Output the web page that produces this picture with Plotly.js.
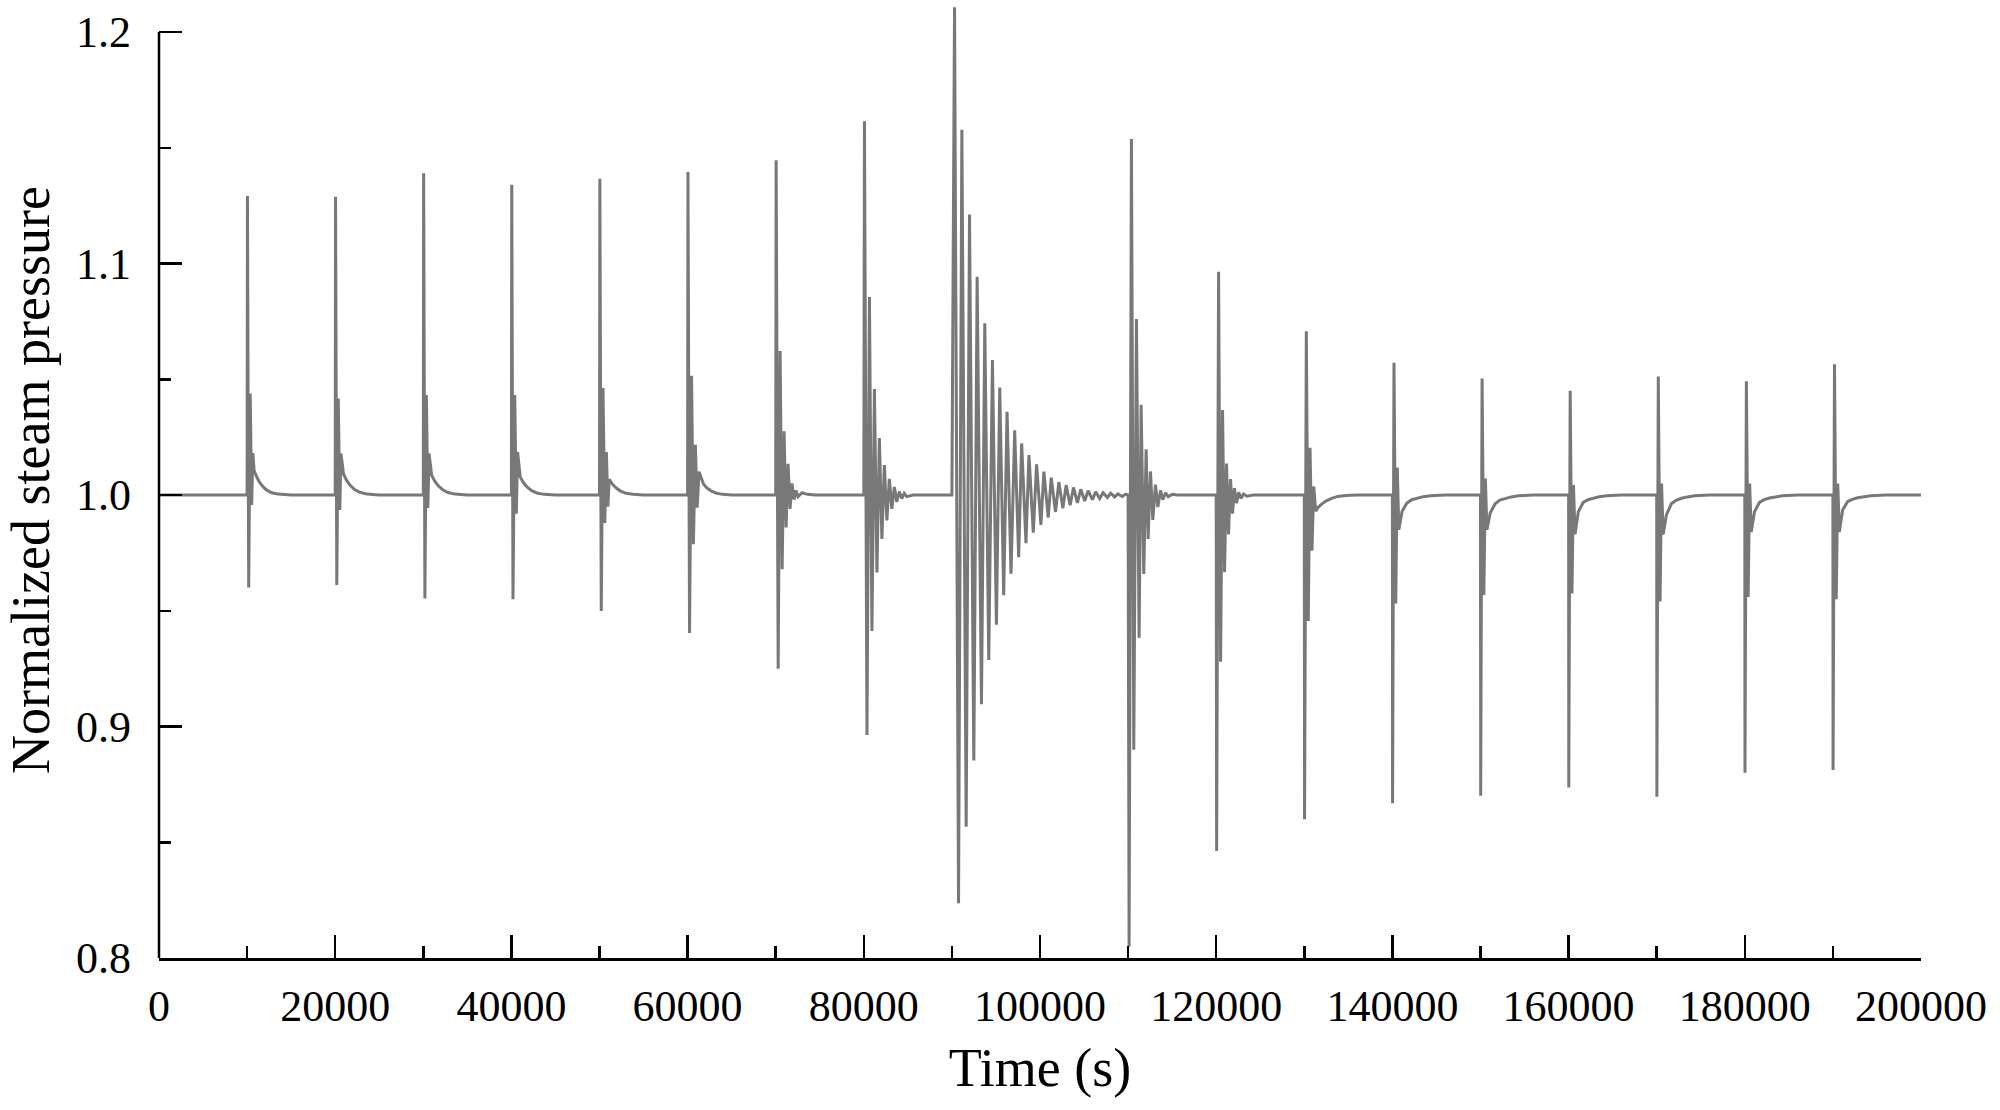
<!DOCTYPE html>
<html>
<head>
<meta charset="utf-8">
<script src="https://cdn.plot.ly/plotly-3.0.1.min.js"></script>
<style>
  html, body { margin: 0; padding: 0; background: #ffffff; }
  #chart { width: 2000px; height: 1110px; }
</style>
</head>
<body>
<div id="chart"></div>
<script>
// ---- Data (time in s, normalized steam pressure) ----
const t_start = [0];
const p_start = [1.0];

const t_10k = [10000, 10040, 10180, 10350, 10520, 10650, 10800, 11100, 11400, 11800, 12200, 12800, 13500, 15000];
const p_10k = [1.0, 1.1292, 0.9601, 1.0439, 0.9957, 1.0181, 1.0105, 1.0078, 1.0056, 1.0036, 1.0022, 1.0010, 1.0004, 1.0];

const t_20k = [20000, 20040, 20180, 20350, 20520, 20650, 20950, 21300, 21700, 22200, 22800, 23600, 25000];
const p_20k = [1.0, 1.1289, 0.9611, 1.0417, 0.9935, 1.018, 1.009, 1.0063, 1.0042, 1.0024, 1.0012, 1.0004, 1.0];

const t_30k = [30000, 30040, 30180, 30350, 30520, 30650, 30950, 31300, 31700, 32200, 32800, 33600, 35000];
const p_30k = [1.0, 1.139, 0.9553, 1.0432, 0.9944, 1.018, 1.0085, 1.006, 1.004, 1.0023, 1.0011, 1.0004, 1.0];

const t_40k = [40000, 40040, 40180, 40380, 40560, 40700, 41000, 41400, 41800, 42300, 42900, 43700, 45000];
const p_40k = [1.0, 1.134, 0.955, 1.0432, 0.9919, 1.0186, 1.0078, 1.0052, 1.0034, 1.0019, 1.0009, 1.0003, 1.0];

const t_50k = [50000, 50040, 50200, 50400, 50600, 50780, 50950, 51100, 51500, 51900, 52400, 53000, 53800, 55000];
const p_50k = [1.0, 1.1366, 0.9499, 1.0462, 0.9879, 1.0186, 0.995, 1.0068, 1.0045, 1.003, 1.0017, 1.0008, 1.0003, 1.0];

const t_60k = [60000, 60040, 60220, 60450, 60660, 60880, 61090, 61300, 61800, 62200, 62700, 63300, 64000, 65000];
const p_60k = [1.0, 1.1396, 0.9404, 1.0515, 0.9788, 1.0217, 0.9945, 1.0101, 1.0048, 1.003, 1.0017, 1.0008, 1.0003, 1.0];

const t_70k = [70000, 70050, 70280, 70500, 70730, 70950, 71180, 71400, 71630, 71850, 72080, 72300, 72530, 73000, 73600, 74500];
const p_70k = [1.0, 1.1446, 0.925, 1.0622, 0.968, 1.0275, 0.986, 1.0135, 0.994, 1.005, 0.998, 1.002, 0.9993, 1.001, 1.0003, 1.0];

const t_80k = [80000, 80075, 80360, 80640, 80925, 81205, 81490, 81770, 82055, 82335, 82620, 82900, 83185, 83465, 83750, 84030, 84315, 84595, 84880, 85600];
const p_80k = [1.0, 1.1615, 0.8963, 1.0855, 0.9413, 1.0458, 0.9665, 1.0246, 0.981, 1.013, 0.989, 1.007, 0.994, 1.0035, 0.997, 1.0015, 0.9985, 1.0007, 0.9993, 1.0];

const t_90k = [90000, 90300, 90754, 91130, 91621, 91998, 92488, 92865, 93355, 93732, 94185, 94600, 95052, 95430, 95881, 96260, 96711, 97125, 97578, 97917, 98407, 98746, 99237, 99613, 100104, 100442, 100933, 101272, 101762, 102139, 102592, 102969, 103421, 103798, 104251, 104628, 105080, 105457, 105947, 106324, 106777, 107154, 107644, 108021, 108473, 108850, 109340, 109717, 110000];
const p_90k = [1.0, 1.2107, 0.8237, 1.1578, 0.8567, 1.1212, 0.8853, 1.0943, 0.9096, 1.0742, 0.9287, 1.0583, 0.944, 1.0464, 0.9567, 1.036, 0.966, 1.028, 0.9731, 1.0223, 0.9792, 1.0173, 0.9837, 1.0133, 0.9871, 1.0101, 0.9903, 1.0075, 0.9927, 1.0056, 0.9943, 1.0043, 0.9956, 1.0033, 0.9966, 1.0025, 0.9974, 1.0019, 0.998, 1.0014, 0.9985, 1.001, 0.999, 1.0008, 0.9992, 1.0005, 0.9994, 1.0004, 1.0];

const t_110k = [110114, 110379, 110644, 110948, 111251, 111478, 111781, 112047, 112274, 112539, 112805, 113108, 113373, 113676, 113942, 114250, 114550, 115000, 115600];
const p_110k = [0.805, 1.1538, 0.890, 1.076, 0.9383, 1.039, 0.9659, 1.0198, 0.981, 1.0102, 0.9893, 1.0045, 0.9948, 1.002, 0.998, 1.001, 0.9993, 1.0003, 1.0];

const t_120k = [120000, 120050, 120270, 120500, 120720, 120950, 121170, 121400, 121620, 121850, 122070, 122300, 122550, 122800, 123100, 123500, 124200];
const p_120k = [1.0, 0.8462, 1.0965, 0.928, 1.0367, 0.9667, 1.0136, 0.983, 1.0069, 0.992, 1.003, 0.9965, 1.0012, 0.9985, 1.0004, 0.9995, 1.0];

const t_130k = [130000, 130030, 130230, 130450, 130650, 130870, 131070, 131300, 131600, 132000, 132500, 133100, 133800, 134700, 136000];
const p_130k = [1.0, 0.8599, 1.0708, 0.9456, 1.0204, 0.976, 1.0037, 0.993, 0.9948, 0.9962, 0.9975, 0.9986, 0.9994, 0.9998, 1.0];

const t_140k = [140000, 140020, 140180, 140380, 140550, 140730, 141100, 141660, 142200, 142800, 143500, 144300, 146000];
const p_140k = [1.0, 0.8668, 1.0571, 0.9532, 1.0119, 0.985, 0.993, 0.9966, 0.998, 0.9987, 0.9993, 0.9997, 1.0];

const t_150k = [150000, 150020, 150180, 150380, 150550, 150730, 151100, 151660, 152200, 152800, 153500, 154300, 156000];
const p_150k = [1.0, 0.8701, 1.0503, 0.9568, 1.0071, 0.985, 0.9922, 0.9962, 0.9978, 0.9986, 0.9992, 0.9997, 1.0];

const t_160k = [160000, 160020, 160180, 160380, 160550, 160730, 161100, 161660, 162200, 162800, 163500, 164300, 166000];
const p_160k = [1.0, 0.8737, 1.0451, 0.9575, 1.0043, 0.983, 0.9928, 0.9968, 0.998, 0.9987, 0.9993, 0.9997, 1.0];

const t_170k = [170000, 170020, 170180, 170380, 170550, 170730, 171100, 171660, 172200, 172800, 173500, 174300, 176000];
const p_170k = [1.0, 0.8697, 1.0512, 0.954, 1.005, 0.983, 0.9914, 0.9962, 0.9977, 0.9986, 0.9992, 0.9997, 1.0];

const t_180k = [180000, 180020, 180180, 180380, 180550, 180730, 181100, 181660, 182200, 182800, 183500, 184300, 186000];
const p_180k = [1.0, 0.8800, 1.0492, 0.956, 1.005, 0.984, 0.9928, 0.9968, 0.998, 0.9987, 0.9993, 0.9997, 1.0];

const t_190k = [190000, 190020, 190180, 190380, 190550, 190730, 191100, 191660, 192200, 192800, 193500, 194300, 196000, 200000];
const p_190k = [1.0, 0.8812, 1.0565, 0.955, 1.005, 0.984, 0.9935, 0.9971, 0.9981, 0.9988, 0.9993, 0.9997, 1.0, 1.0];

const xTickVals = [0, 20000, 40000, 60000, 80000, 100000, 120000, 140000, 160000, 180000, 200000];
const yTickVals = [0.8, 0.9, 1.0, 1.1, 1.2];

// ---- Assemble the single series ----
const segments = [
  [t_start, p_start], [t_10k, p_10k], [t_20k, p_20k], [t_30k, p_30k], [t_40k, p_40k],
  [t_50k, p_50k], [t_60k, p_60k], [t_70k, p_70k], [t_80k, p_80k], [t_90k, p_90k],
  [t_110k, p_110k], [t_120k, p_120k], [t_130k, p_130k], [t_140k, p_140k], [t_150k, p_150k],
  [t_160k, p_160k], [t_170k, p_170k], [t_180k, p_180k], [t_190k, p_190k]
];
const timeS = [];
const pressure = [];
segments.forEach(function (s) {
  for (let i = 0; i < s[0].length; i++) { timeS.push(s[0][i]); pressure.push(s[1][i]); }
});

const FONT = 'Liberation Serif, Times New Roman, serif';
const AX_W = 2.5;

const trace = {
  type: 'scatter',
  mode: 'lines',
  x: timeS,
  y: pressure,
  line: { color: '#787878', width: 3 },
  hoverinfo: 'x+y',
  showlegend: false
};

const layout = {
  width: 2000,
  height: 1110,
  margin: { l: 159, r: 79, t: 2, b: 152, pad: 0 },
  paper_bgcolor: '#ffffff',
  plot_bgcolor: '#ffffff',
  font: { family: FONT, color: '#000000', size: 44 },
  showlegend: false,
  xaxis: {
    range: [0, 200000],
    tickmode: 'array',
    tickvals: xTickVals,
    ticktext: xTickVals.map(String),
    ticks: 'inside',
    ticklen: 23,
    tickwidth: AX_W,
    tickcolor: '#000000',
    ticklabelstandoff: 8,
    showline: true,
    linewidth: AX_W,
    linecolor: '#000000',
    showgrid: false,
    zeroline: false,
    tickfont: { family: FONT, size: 44, color: '#000000' },
    minor: { tickmode: 'linear', tick0: 0, dtick: 10000, ticks: 'inside', ticklen: 12, tickwidth: AX_W, tickcolor: '#000000', showgrid: false },
    title: { text: 'Time (s)', font: { family: FONT, size: 54, color: '#000000' }, standoff: 18 },
    automargin: false
  },
  yaxis: {
    range: [0.8, 1.213],
    tickmode: 'array',
    tickvals: yTickVals,
    ticktext: yTickVals.map(function (v) { return v.toFixed(1); }),
    ticks: 'inside',
    ticklen: 23,
    tickwidth: AX_W,
    tickcolor: '#000000',
    ticklabelstandoff: 27,
    showline: false,
    showgrid: false,
    zeroline: false,
    tickfont: { family: FONT, size: 44, color: '#000000' },
    minor: { tickmode: 'linear', tick0: 0.8, dtick: 0.05, ticks: 'inside', ticklen: 12, tickwidth: AX_W, tickcolor: '#000000', showgrid: false },
    title: { text: 'Normalized steam pressure', font: { family: FONT, size: 54, color: '#000000' }, standoff: 9 },
    automargin: false
  },
  shapes: [
    { type: 'line', xref: 'paper', yref: 'y', x0: 0, x1: 0, y0: 0.8, y1: 1.2,
      line: { color: '#000000', width: AX_W }, layer: 'above' }
  ]
};

Plotly.newPlot('chart', [trace], layout, { displayModeBar: false, staticPlot: true });
</script>
</body>
</html>
